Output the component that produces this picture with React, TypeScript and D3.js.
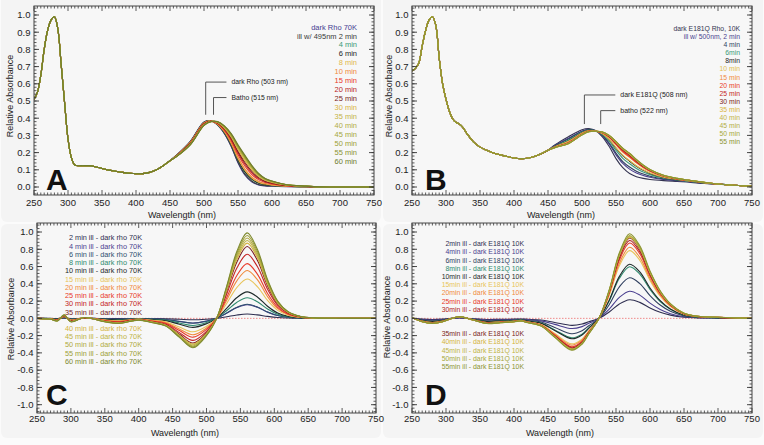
import React from "react";
import * as d3 from "d3";

const FONT = "'Liberation Sans', Arial, Helvetica, sans-serif";

// ---------------- Panel A : dark Rho 70K ----------------
const A_WL_UV = [250, 255, 260, 265, 270, 275, 280, 285, 290, 295, 300, 305, 310, 320, 330, 340, 350, 360, 370, 380, 390, 400, 410, 420, 430, 440, 450];
const A_UV = [0.51, 0.55, 0.65, 0.8, 0.91, 0.97, 0.99, 0.92, 0.71, 0.49, 0.28, 0.17, 0.128, 0.124, 0.124, 0.118, 0.108, 0.098, 0.092, 0.085, 0.08, 0.077, 0.078, 0.085, 0.1, 0.124, 0.153];
const A_WL_VIS = [460, 480, 500, 510, 520, 530, 540, 550, 560, 570, 580, 590, 600, 620, 650];
const A_WL_TAIL = [670, 700, 750];
const A_TAIL = [0.001, 0.0, 0.0];
const A_LABELS = ["dark Rho 70K", "ill w/ 495nm 2 min", "4 min", "6 min", "8 min", "10 min", "15 min", "20 min", "25 min", "30 min", "35 min", "40 min", "45 min", "50 min", "55 min", "60 min"];
const A_COLORS = ["#453d92", "#3a3a3a", "#3a9a78", "#1e1e1e", "#e2b84a", "#f08a3c", "#e83a2a", "#b81e1e", "#7a1e22", "#d9b441", "#c4b446", "#b3ad42", "#a6a83c", "#9d9f36", "#8c9432", "#6f7d2c"];
const A_VIS = [
  [0.186, 0.266, 0.378, 0.385, 0.36, 0.31, 0.235, 0.14, 0.07, 0.03, 0.012, 0.006, 0.004, 0.002, 0.001],
  [0.186, 0.265, 0.377, 0.385, 0.361, 0.312, 0.239, 0.145, 0.076, 0.035, 0.015, 0.008, 0.006, 0.003, 0.001],
  [0.185, 0.263, 0.375, 0.384, 0.363, 0.317, 0.247, 0.157, 0.088, 0.046, 0.023, 0.013, 0.009, 0.004, 0.002],
  [0.185, 0.262, 0.374, 0.384, 0.364, 0.318, 0.249, 0.159, 0.091, 0.048, 0.024, 0.014, 0.01, 0.004, 0.002],
  [0.184, 0.261, 0.373, 0.384, 0.365, 0.321, 0.253, 0.165, 0.098, 0.054, 0.028, 0.017, 0.011, 0.005, 0.002],
  [0.184, 0.26, 0.372, 0.383, 0.366, 0.324, 0.258, 0.173, 0.106, 0.06, 0.033, 0.02, 0.014, 0.006, 0.002],
  [0.182, 0.257, 0.369, 0.383, 0.369, 0.33, 0.269, 0.187, 0.122, 0.074, 0.043, 0.026, 0.018, 0.008, 0.003],
  [0.182, 0.255, 0.367, 0.382, 0.371, 0.335, 0.277, 0.199, 0.134, 0.085, 0.05, 0.031, 0.021, 0.009, 0.003],
  [0.181, 0.253, 0.365, 0.382, 0.373, 0.339, 0.283, 0.207, 0.144, 0.093, 0.056, 0.034, 0.024, 0.01, 0.004],
  [0.18, 0.251, 0.363, 0.381, 0.375, 0.343, 0.291, 0.218, 0.155, 0.103, 0.062, 0.039, 0.027, 0.012, 0.004],
  [0.179, 0.249, 0.361, 0.381, 0.377, 0.347, 0.297, 0.227, 0.165, 0.111, 0.068, 0.043, 0.03, 0.013, 0.004],
  [0.179, 0.249, 0.361, 0.381, 0.377, 0.349, 0.3, 0.231, 0.17, 0.115, 0.071, 0.044, 0.031, 0.013, 0.004],
  [0.179, 0.248, 0.36, 0.381, 0.378, 0.351, 0.303, 0.235, 0.174, 0.118, 0.073, 0.046, 0.032, 0.014, 0.005],
  [0.179, 0.247, 0.359, 0.38, 0.379, 0.352, 0.305, 0.238, 0.177, 0.121, 0.075, 0.047, 0.033, 0.014, 0.005],
  [0.178, 0.247, 0.359, 0.38, 0.379, 0.353, 0.307, 0.241, 0.18, 0.124, 0.077, 0.048, 0.034, 0.014, 0.005],
  [0.178, 0.246, 0.358, 0.38, 0.38, 0.355, 0.31, 0.245, 0.185, 0.128, 0.08, 0.05, 0.035, 0.015, 0.005],
];

// ---------------- Panel B : dark E181Q Rho 10K ----------------
const B_WL_UV = [250, 255, 260, 265, 270, 275, 280, 285, 290, 295, 300, 305, 310, 315, 320, 325, 330, 340, 350, 360, 370, 380, 390, 400, 410, 420, 430, 440, 450];
const B_UV = [0.675, 0.69, 0.72, 0.82, 0.91, 0.97, 0.99, 0.94, 0.75, 0.6, 0.51, 0.44, 0.395, 0.375, 0.365, 0.345, 0.315, 0.264, 0.232, 0.213, 0.198, 0.187, 0.177, 0.169, 0.165, 0.167, 0.177, 0.193, 0.214];
const B_WL_VIS = [460, 480, 500, 510, 520, 530, 540, 550, 560, 570, 580, 590, 600, 620, 640, 660, 680];
const B_WL_TAIL = [700, 725, 750];
const B_TAIL = [0.017, 0.01, 0.004];
const B_LABELS = ["dark E181Q Rho, 10K", "ill w/ 500nm, 2 min", "4 min", "6min", "8min", "10 min", "15 min", "20 min", "25 min", "30 min", "35 min", "40 min", "45 min", "50 min", "55 min"];
const B_COLORS = ["#333350", "#4a3f8f", "#2f3f5f", "#3a9a78", "#1e1e1e", "#e2c050", "#f08a3c", "#e83a2a", "#c42424", "#7a1e22", "#d9b441", "#c4b446", "#b3ad42", "#a6a83c", "#8c9432"];
const B_VIS = [
  [0.244, 0.292, 0.333, 0.34, 0.328, 0.292, 0.235, 0.165, 0.112, 0.078, 0.06, 0.05, 0.044, 0.037, 0.032, 0.027, 0.02],
  [0.241, 0.283, 0.326, 0.336, 0.327, 0.298, 0.249, 0.187, 0.137, 0.104, 0.082, 0.067, 0.057, 0.044, 0.036, 0.029, 0.022],
  [0.239, 0.279, 0.323, 0.334, 0.327, 0.301, 0.256, 0.197, 0.148, 0.116, 0.092, 0.075, 0.063, 0.047, 0.038, 0.031, 0.022],
  [0.237, 0.273, 0.319, 0.331, 0.326, 0.305, 0.266, 0.213, 0.167, 0.135, 0.108, 0.087, 0.072, 0.052, 0.041, 0.032, 0.023],
  [0.235, 0.268, 0.315, 0.329, 0.326, 0.309, 0.275, 0.226, 0.182, 0.15, 0.121, 0.098, 0.079, 0.056, 0.043, 0.034, 0.024],
  [0.234, 0.266, 0.314, 0.328, 0.325, 0.31, 0.277, 0.229, 0.185, 0.154, 0.124, 0.1, 0.081, 0.057, 0.044, 0.034, 0.024],
  [0.232, 0.26, 0.309, 0.326, 0.325, 0.314, 0.287, 0.245, 0.203, 0.172, 0.14, 0.112, 0.09, 0.062, 0.046, 0.036, 0.026],
  [0.231, 0.258, 0.308, 0.325, 0.325, 0.316, 0.29, 0.249, 0.208, 0.177, 0.144, 0.116, 0.093, 0.063, 0.047, 0.036, 0.026],
  [0.231, 0.256, 0.306, 0.324, 0.324, 0.317, 0.293, 0.254, 0.213, 0.183, 0.149, 0.119, 0.096, 0.065, 0.048, 0.037, 0.026],
  [0.23, 0.255, 0.305, 0.323, 0.324, 0.318, 0.295, 0.257, 0.217, 0.187, 0.152, 0.122, 0.097, 0.066, 0.049, 0.037, 0.026],
  [0.23, 0.254, 0.305, 0.323, 0.324, 0.319, 0.297, 0.26, 0.22, 0.19, 0.155, 0.124, 0.099, 0.066, 0.049, 0.037, 0.027],
  [0.229, 0.253, 0.304, 0.323, 0.324, 0.319, 0.298, 0.262, 0.223, 0.192, 0.157, 0.126, 0.1, 0.067, 0.049, 0.038, 0.027],
  [0.229, 0.253, 0.304, 0.322, 0.324, 0.319, 0.299, 0.263, 0.224, 0.194, 0.158, 0.126, 0.101, 0.067, 0.05, 0.038, 0.027],
  [0.229, 0.252, 0.303, 0.322, 0.324, 0.32, 0.299, 0.264, 0.225, 0.195, 0.159, 0.127, 0.101, 0.068, 0.05, 0.038, 0.027],
  [0.229, 0.252, 0.303, 0.322, 0.324, 0.32, 0.3, 0.265, 0.226, 0.196, 0.16, 0.128, 0.102, 0.068, 0.05, 0.038, 0.027],
];

// ---------------- Panel C : difference spectra, Rho ----------------
const C_WL = [250, 270, 280, 290, 300, 320, 350, 370, 400, 420, 440, 460, 480, 500, 515, 530, 545, 560, 575, 590, 605, 620, 640, 660, 700, 750];
const C_LABELS = ["2 min ill - dark rho 70K", "4 min ill - dark rho 70K", "6 min ill - dark rho 70K", "8 min ill - dark rho 70K", "10 min ill - dark rho 70K", "15 min ill - dark rho 70K", "20 min ill - dark rho 70K", "25 min ill - dark rho 70K", "30 min ill - dark rho 70K", "35 min ill - dark rho 70K", "40 min ill - dark rho 70K", "45 min ill - dark rho 70K", "50 min ill - dark rho 70K", "55 min ill - dark rho 70K", "60 min ill - dark rho 70K"];
const C_COLORS = ["#2e2e50", "#4a3f8f", "#2f4f6f", "#2e8a6e", "#1e2a2a", "#e8c45a", "#f08a3c", "#e83a2a", "#c42424", "#7a1e22", "#d4b440", "#bfb446", "#b0aa40", "#9d9f36", "#7f8a30"];
const C_VALUES = [
  [0, 0, -0.002, 0.002, -0.002, 0, -0.002, -0.003, -0.001, -0.003, -0.005, -0.011, -0.017, -0.01, 0, 0.019, 0.039, 0.05, 0.04, 0.023, 0.01, 0.004, 0.001, 0, 0, 0],
  [0, -0.002, -0.005, 0.006, -0.006, 0.002, -0.006, -0.01, -0.003, -0.008, -0.014, -0.035, -0.054, -0.032, 0, 0.061, 0.125, 0.158, 0.128, 0.072, 0.032, 0.013, 0.003, 0.001, 0, 0],
  [0, -0.002, -0.005, 0.007, -0.007, 0.002, -0.007, -0.01, -0.003, -0.008, -0.015, -0.036, -0.056, -0.033, 0, 0.063, 0.129, 0.163, 0.132, 0.074, 0.033, 0.013, 0.003, 0.001, 0, 0],
  [0, -0.002, -0.007, 0.01, -0.01, 0.002, -0.01, -0.014, -0.005, -0.012, -0.022, -0.053, -0.082, -0.048, 0, 0.091, 0.187, 0.238, 0.192, 0.108, 0.048, 0.019, 0.005, 0.001, 0, 0],
  [0, -0.003, -0.009, 0.012, -0.012, 0.003, -0.012, -0.019, -0.006, -0.016, -0.028, -0.068, -0.105, -0.062, 0, 0.118, 0.242, 0.307, 0.248, 0.14, 0.062, 0.025, 0.006, 0.002, 0, 0],
  [0, -0.005, -0.014, 0.018, -0.018, 0.005, -0.018, -0.028, -0.009, -0.023, -0.041, -0.101, -0.156, -0.092, 0, 0.175, 0.359, 0.455, 0.368, 0.207, 0.092, 0.037, 0.009, 0.002, 0, 0],
  [0, -0.006, -0.017, 0.022, -0.022, 0.006, -0.022, -0.034, -0.011, -0.028, -0.05, -0.123, -0.19, -0.112, 0, 0.213, 0.437, 0.554, 0.448, 0.252, 0.112, 0.045, 0.011, 0.003, 0, 0],
  [0, -0.006, -0.019, 0.026, -0.026, 0.006, -0.026, -0.038, -0.013, -0.032, -0.058, -0.141, -0.218, -0.128, 0, 0.243, 0.499, 0.634, 0.512, 0.288, 0.128, 0.051, 0.013, 0.003, 0, 0],
  [0, -0.008, -0.023, 0.03, -0.03, 0.008, -0.03, -0.045, -0.015, -0.038, -0.068, -0.165, -0.255, -0.15, 0, 0.285, 0.585, 0.743, 0.6, 0.338, 0.15, 0.06, 0.015, 0.004, 0, 0],
  [0, -0.008, -0.025, 0.034, -0.034, 0.008, -0.034, -0.05, -0.017, -0.042, -0.076, -0.185, -0.286, -0.168, 0, 0.319, 0.655, 0.832, 0.672, 0.378, 0.168, 0.067, 0.017, 0.004, 0, 0],
  [0, -0.009, -0.026, 0.035, -0.035, 0.009, -0.035, -0.053, -0.018, -0.044, -0.079, -0.194, -0.299, -0.176, 0, 0.334, 0.686, 0.871, 0.704, 0.396, 0.176, 0.07, 0.018, 0.004, 0, 0],
  [0, -0.009, -0.027, 0.036, -0.036, 0.009, -0.036, -0.055, -0.018, -0.046, -0.082, -0.2, -0.309, -0.182, 0, 0.346, 0.71, 0.901, 0.728, 0.41, 0.182, 0.073, 0.018, 0.005, 0, 0],
  [0, -0.009, -0.028, 0.038, -0.038, 0.009, -0.038, -0.056, -0.019, -0.047, -0.085, -0.207, -0.32, -0.188, 0, 0.357, 0.733, 0.931, 0.752, 0.423, 0.188, 0.075, 0.019, 0.005, 0, 0],
  [0, -0.01, -0.029, 0.039, -0.039, 0.01, -0.039, -0.058, -0.019, -0.049, -0.087, -0.213, -0.33, -0.194, 0, 0.369, 0.757, 0.96, 0.776, 0.437, 0.194, 0.078, 0.019, 0.005, 0, 0],
  [0, -0.01, -0.03, 0.04, -0.04, 0.01, -0.04, -0.06, -0.02, -0.05, -0.09, -0.22, -0.34, -0.2, 0, 0.38, 0.78, 0.99, 0.8, 0.45, 0.2, 0.08, 0.02, 0.005, 0, 0],
];

// ---------------- Panel D : difference spectra, E181Q ----------------
const D_WL = [250, 265, 280, 295, 305, 320, 340, 360, 380, 400, 410, 420, 440, 460, 485, 500, 510, 525, 540, 555, 570, 585, 600, 615, 630, 650, 670, 700, 750];
const D_LABELS = ["2min ill - dark E181Q 10K", "4min ill - dark E181Q 10K", "6min ill - dark E181Q 10K", "8min ill - dark E181Q 10K", "10min ill - dark E181Q 10K", "15min ill - dark E181Q 10K", "20min ill - dark E181Q 10K", "25min ill - dark E181Q 10K", "30min ill - dark E181Q 10K", "35min ill - dark E181Q 10K", "40min ill - dark E181Q 10K", "45min ill - dark E181Q 10K", "50min ill - dark E181Q 10K", "55min ill - dark E181Q 10K"];
const D_COLORS = ["#2e2e50", "#4a3f8f", "#2f3f5f", "#2e8a6e", "#1e2a2a", "#e8c45a", "#f08a3c", "#e83a2a", "#b02020", "#7a1e22", "#d4b440", "#bfb446", "#a6a83c", "#8c9432"];
const D_VALUES = [
  [0.002, -0.009, -0.013, -0.009, -0.002, 0.004, -0.004, -0.013, -0.011, -0.009, -0.007, -0.011, -0.02, -0.048, -0.081, -0.066, -0.04, 0, 0.073, 0.167, 0.216, 0.185, 0.121, 0.07, 0.037, 0.013, 0.006, 0.003, 0],
  [0.003, -0.013, -0.019, -0.013, -0.003, 0.006, -0.006, -0.019, -0.016, -0.013, -0.01, -0.016, -0.029, -0.07, -0.118, -0.096, -0.058, 0, 0.106, 0.243, 0.314, 0.269, 0.176, 0.102, 0.054, 0.019, 0.008, 0.004, 0],
  [0.005, -0.019, -0.029, -0.019, -0.005, 0.01, -0.01, -0.029, -0.024, -0.019, -0.014, -0.024, -0.043, -0.106, -0.178, -0.144, -0.086, 0, 0.158, 0.365, 0.47, 0.403, 0.264, 0.154, 0.082, 0.029, 0.012, 0.006, 0],
  [0.006, -0.024, -0.037, -0.024, -0.006, 0.012, -0.012, -0.037, -0.031, -0.024, -0.018, -0.031, -0.055, -0.134, -0.226, -0.183, -0.11, 0, 0.201, 0.464, 0.598, 0.512, 0.336, 0.195, 0.104, 0.037, 0.015, 0.007, 0],
  [0.006, -0.026, -0.038, -0.026, -0.006, 0.013, -0.013, -0.038, -0.032, -0.026, -0.019, -0.032, -0.058, -0.141, -0.237, -0.192, -0.115, 0, 0.211, 0.486, 0.627, 0.538, 0.352, 0.205, 0.109, 0.038, 0.016, 0.008, 0],
  [0.008, -0.032, -0.048, -0.032, -0.008, 0.016, -0.016, -0.048, -0.04, -0.032, -0.024, -0.04, -0.072, -0.176, -0.296, -0.24, -0.144, 0, 0.264, 0.608, 0.784, 0.672, 0.44, 0.256, 0.136, 0.048, 0.02, 0.01, 0],
  [0.008, -0.034, -0.05, -0.034, -0.008, 0.017, -0.017, -0.05, -0.042, -0.034, -0.025, -0.042, -0.076, -0.185, -0.311, -0.252, -0.151, 0, 0.277, 0.638, 0.823, 0.706, 0.462, 0.269, 0.143, 0.05, 0.021, 0.01, 0],
  [0.009, -0.036, -0.053, -0.036, -0.009, 0.018, -0.018, -0.053, -0.045, -0.036, -0.027, -0.045, -0.08, -0.196, -0.329, -0.267, -0.16, 0, 0.294, 0.676, 0.872, 0.748, 0.49, 0.285, 0.151, 0.053, 0.022, 0.011, 0],
  [0.009, -0.037, -0.055, -0.037, -0.009, 0.018, -0.018, -0.055, -0.046, -0.037, -0.028, -0.046, -0.083, -0.202, -0.34, -0.276, -0.166, 0, 0.304, 0.699, 0.902, 0.773, 0.506, 0.294, 0.156, 0.055, 0.023, 0.011, 0],
  [0.01, -0.038, -0.057, -0.038, -0.01, 0.019, -0.019, -0.057, -0.048, -0.038, -0.029, -0.048, -0.086, -0.209, -0.352, -0.285, -0.171, 0, 0.314, 0.722, 0.931, 0.798, 0.523, 0.304, 0.162, 0.057, 0.024, 0.011, 0],
  [0.01, -0.038, -0.058, -0.038, -0.01, 0.019, -0.019, -0.058, -0.048, -0.038, -0.029, -0.048, -0.086, -0.211, -0.355, -0.288, -0.173, 0, 0.317, 0.73, 0.941, 0.806, 0.528, 0.307, 0.163, 0.058, 0.024, 0.012, 0],
  [0.01, -0.039, -0.058, -0.039, -0.01, 0.019, -0.019, -0.058, -0.049, -0.039, -0.029, -0.049, -0.087, -0.213, -0.359, -0.291, -0.175, 0, 0.32, 0.737, 0.951, 0.815, 0.534, 0.31, 0.165, 0.058, 0.024, 0.012, 0],
  [0.01, -0.039, -0.059, -0.039, -0.01, 0.02, -0.02, -0.059, -0.049, -0.039, -0.029, -0.049, -0.088, -0.216, -0.363, -0.294, -0.176, 0, 0.323, 0.745, 0.96, 0.823, 0.539, 0.314, 0.167, 0.059, 0.025, 0.012, 0],
  [0.01, -0.04, -0.06, -0.04, -0.01, 0.02, -0.02, -0.06, -0.05, -0.04, -0.03, -0.05, -0.09, -0.22, -0.37, -0.3, -0.18, 0, 0.33, 0.76, 0.98, 0.84, 0.55, 0.32, 0.17, 0.06, 0.025, 0.012, 0],
];

// annotations (label, wavelength of marker, bottom/top value of marker)
const A_ANN = [
  { label: "dark Rho (503 nm)", wl: 502.5, lo: 0.42, hi: 0.61 },
  { label: "Batho (515 nm)", wl: 514, lo: 0.42, hi: 0.52 },
];
const B_ANN = [
  { label: "dark E181Q (508 nm)", wl: 503.5, lo: 0.366, hi: 0.535 },
  { label: "batho (522 nm)", wl: 527.5, lo: 0.366, hi: 0.444 },
];

const X_MAJOR = d3.range(250, 751, 50);
const X_MINOR = d3.range(250, 751, 5);

type Series = { wl: number[]; v: number[]; color: string };
type LegendItem = { text: string; color: string; y: number };

type PanelCfg = {
  x0: number; x1: number; top: number; bottom: number;
  yv: [number, number]; yp: [number, number];
  yMajor: number[]; yMinorStep: number;
  series: Series[];
  zero?: boolean;
  legend: LegendItem[]; legendX: number; legendSize: number;
  letter: string; letterX: number; letterY: number;
  xTitleX: number; xTitleY: number; xLabelDy: number;
  yTitleX: number; yTitleY: number;
  ann?: { label: string; wl: number; lo: number; hi: number }[];
  annElbow?: number; annSize?: number;
  id: string;
};

const fmt = (v: number) => {
  const s = (Math.round(v * 10) / 10).toFixed(1);
  return s === "-0.0" ? "0.0" : s;
};

function Panel(c: PanelCfg) {
  const xs = d3.scaleLinear().domain([250, 750]).range([c.x0, c.x1]);
  const ys = d3.scaleLinear().domain(c.yv).range(c.yp);
  const line = d3
    .line<[number, number]>()
    .x((d) => xs(d[0]))
    .y((d) => ys(d[1]))
    .curve(d3.curveCatmullRom.alpha(0.5));
  const yLo = ys.invert(c.bottom);
  const yHi = ys.invert(c.top);
  const minorY = d3
    .range(Math.ceil(yLo / c.yMinorStep), Math.floor(yHi / c.yMinorStep) + 1)
    .map((k) => k * c.yMinorStep);
  const tc = "#333";
  return (
    <g>
      <defs>
        <clipPath id={"clip" + c.id}>
          <rect x={c.x0} y={c.top} width={c.x1 - c.x0} height={c.bottom - c.top} />
        </clipPath>
      </defs>
      <rect x={c.x0} y={c.top} width={c.x1 - c.x0} height={c.bottom - c.top} fill="#f7f7f7" />
      <g clipPath={`url(#clip${c.id})`}>
        {c.zero && (
          <line x1={c.x0} x2={c.x1} y1={ys(0)} y2={ys(0)} stroke="#f08a8a" strokeWidth={1} strokeDasharray="1.5,1.5" />
        )}
        {c.series.map((s, i) => {
          const pts = s.wl.map((w, j) => [w, s.v[j]] as [number, number]).filter((p) => p[1] !== undefined);
          return <path key={i} d={line(pts) || ""} fill="none" stroke={s.color} strokeWidth={1.1} />;
        })}
      </g>
      {X_MINOR.map((t) => {
        const major = t % 50 === 0;
        const L = major ? 5 : 2.5;
        const x = xs(t);
        return (
          <g key={"xt" + t}>
            <line x1={x} x2={x} y1={c.bottom} y2={c.bottom - L} stroke={tc} strokeWidth={0.8} />
            <line x1={x} x2={x} y1={c.top} y2={c.top + L} stroke={tc} strokeWidth={0.8} />
          </g>
        );
      })}
      {minorY.map((v, i) => {
        const y = ys(v);
        return (
          <g key={"ym" + i}>
            <line x1={c.x0} x2={c.x0 + 2.5} y1={y} y2={y} stroke={tc} strokeWidth={0.8} />
            <line x1={c.x1} x2={c.x1 - 2.5} y1={y} y2={y} stroke={tc} strokeWidth={0.8} />
          </g>
        );
      })}
      {c.yMajor.map((v, i) => {
        const y = ys(v);
        return (
          <g key={"yM" + i}>
            <line x1={c.x0} x2={c.x0 + 5} y1={y} y2={y} stroke={tc} strokeWidth={0.9} />
            <line x1={c.x1} x2={c.x1 - 5} y1={y} y2={y} stroke={tc} strokeWidth={0.9} />
            <text x={c.x0 - 3.5} y={y} dy="0.35em" textAnchor="end" fontSize={9.5} fill="#222" fontFamily={FONT}>
              {fmt(v)}
            </text>
          </g>
        );
      })}
      {X_MAJOR.map((t) => (
        <text key={"xl" + t} x={xs(t)} y={c.bottom + c.xLabelDy} dy="0.35em" textAnchor="middle" fontSize={9.5} fill="#222" fontFamily={FONT}>
          {t}
        </text>
      ))}
      <rect x={c.x0} y={c.top} width={c.x1 - c.x0} height={c.bottom - c.top} fill="none" stroke="#444" strokeWidth={1} />
      <text x={c.xTitleX} y={c.xTitleY} dy="0.35em" textAnchor="middle" fontSize={9} fill="#222" fontFamily={FONT}>
        Wavelength (nm)
      </text>
      <text
        transform={`translate(${c.yTitleX},${c.yTitleY}) rotate(-90)`}
        dy="0.35em"
        textAnchor="middle"
        fontSize={9}
        fill="#222"
        fontFamily={FONT}
      >
        Relative Absorbance
      </text>
      {c.legend.map((l, i) => (
        <text key={"lg" + i} x={c.legendX} y={l.y} dy="0.35em" textAnchor="end" fontSize={c.legendSize} fill={l.color} fontFamily={FONT}>
          {l.text}
        </text>
      ))}
      {c.ann &&
        c.ann.map((a, i) => {
          const x = xs(a.wl);
          const yb = ys(a.lo);
          const yt = ys(a.hi);
          const xe = xs(c.annElbow || 533);
          return (
            <g key={"an" + i}>
              <polyline points={`${x},${yb} ${x},${yt} ${xe},${yt}`} fill="none" stroke="#555" strokeWidth={1} />
              <text x={xe + 5} y={yt} dy="0.35em" fontSize={c.annSize || 6.8} fill="#222" fontFamily={FONT}>
                {a.label}
              </text>
            </g>
          );
        })}
      <text x={c.letterX} y={c.letterY} fontSize={30} fontWeight="bold" fill="#111" fontFamily={FONT}>
        {c.letter}
      </text>
    </g>
  );
}

function buildSeries(wlParts: number[][], shared: number[][], vis: number[][], colors: string[]): Series[] {
  const wl = ([] as number[]).concat(wlParts[0], wlParts[1], wlParts[2]);
  return vis.map((v, i) => ({
    wl,
    v: ([] as number[]).concat(shared[0], v, shared[1]),
    color: colors[i],
  }));
}

export default function App() {
  const aSeries = buildSeries([A_WL_UV, A_WL_VIS, A_WL_TAIL], [A_UV, A_TAIL], A_VIS, A_COLORS);
  const bSeries = buildSeries([B_WL_UV, B_WL_VIS, B_WL_TAIL], [B_UV, B_TAIL], B_VIS, B_COLORS);
  const cSeries = C_VALUES.map((v, i) => ({ wl: C_WL, v, color: C_COLORS[i] }));
  const dSeries = D_VALUES.map((v, i) => ({ wl: D_WL, v, color: D_COLORS[i] }));

  const aLegend = A_LABELS.map((t, i) => ({ text: t, color: A_COLORS[i], y: 27 + i * 8.93 }));
  const bLegend = B_LABELS.map((t, i) => ({ text: t, color: B_COLORS[i], y: 28.7 + i * 8.07 }));
  const cLegend = C_LABELS.map((t, i) => ({ text: t, color: C_COLORS[i], y: i < 10 ? 237.7 + i * 8.26 : 328 + (i - 10) * 8.33 }));
  const dLegend = D_LABELS.map((t, i) => ({ text: t, color: D_COLORS[i], y: i < 9 ? 243.7 + i * 8.2 : 333.7 + (i - 9) * 8.33 }));

  const topMajor = d3.range(0, 11).map((k) => k / 10);
  const diffMajor = d3.range(-5, 6).map((k) => k / 5);

  return (
    <svg width={764} height={445} style={{ position: "absolute", left: 0, top: 0, background: "#fbfbfb" }}>
      <rect x={0} y={0} width={764} height={445} fill="#fbfbfb" />
      <rect x={1} y={-6} width={380} height={228} rx={6} fill="#f4f4f4" />
      <rect x={383} y={-6} width={380} height={228} rx={6} fill="#f4f4f4" />
      <rect x={1} y={224} width={380} height={214} rx={6} fill="#f4f4f4" />
      <rect x={383} y={224} width={380} height={214} rx={6} fill="#f4f4f4" />
      <Panel
        id="A"
        x0={34} x1={374} top={6} bottom={195}
        yv={[0, 1]} yp={[187, 15]}
        yMajor={topMajor} yMinorStep={0.02}
        series={aSeries}
        legend={aLegend} legendX={357} legendSize={7.5}
        letter="A" letterX={46} letterY={190}
        xTitleX={182} xTitleY={215} xLabelDy={8}
        yTitleX={10} yTitleY={96}
        ann={A_ANN} annElbow={533} annSize={6.8}
      />
      <Panel
        id="B"
        x0={412} x1={752} top={6} bottom={195}
        yv={[0, 1]} yp={[187, 15]}
        yMajor={topMajor} yMinorStep={0.02}
        series={bSeries}
        legend={bLegend} legendX={740} legendSize={6.8}
        letter="B" letterX={425} letterY={190}
        xTitleX={561} xTitleY={215} xLabelDy={8}
        yTitleX={389} yTitleY={96}
        ann={B_ANN} annElbow={549} annSize={7}
      />
      <Panel
        id="C"
        x0={37} x1={376} top={223} bottom={413}
        yv={[-1, 1]} yp={[404.7, 232]}
        yMajor={diffMajor} yMinorStep={0.04}
        series={cSeries} zero
        legend={cLegend} legendX={142} legendSize={7.3}
        letter="C" letterX={46} letterY={405}
        xTitleX={185} xTitleY={432.5} xLabelDy={6}
        yTitleX={11} yTitleY={319}
      />
      <Panel
        id="D"
        x0={412} x1={752} top={223} bottom={413}
        yv={[-1, 1]} yp={[404.7, 232]}
        yMajor={diffMajor} yMinorStep={0.04}
        series={dSeries} zero
        legend={dLegend} legendX={524} legendSize={6.9}
        letter="D" letterX={425} letterY={405}
        xTitleX={560} xTitleY={432.5} xLabelDy={6}
        yTitleX={387} yTitleY={317}
      />
    </svg>
  );
}
